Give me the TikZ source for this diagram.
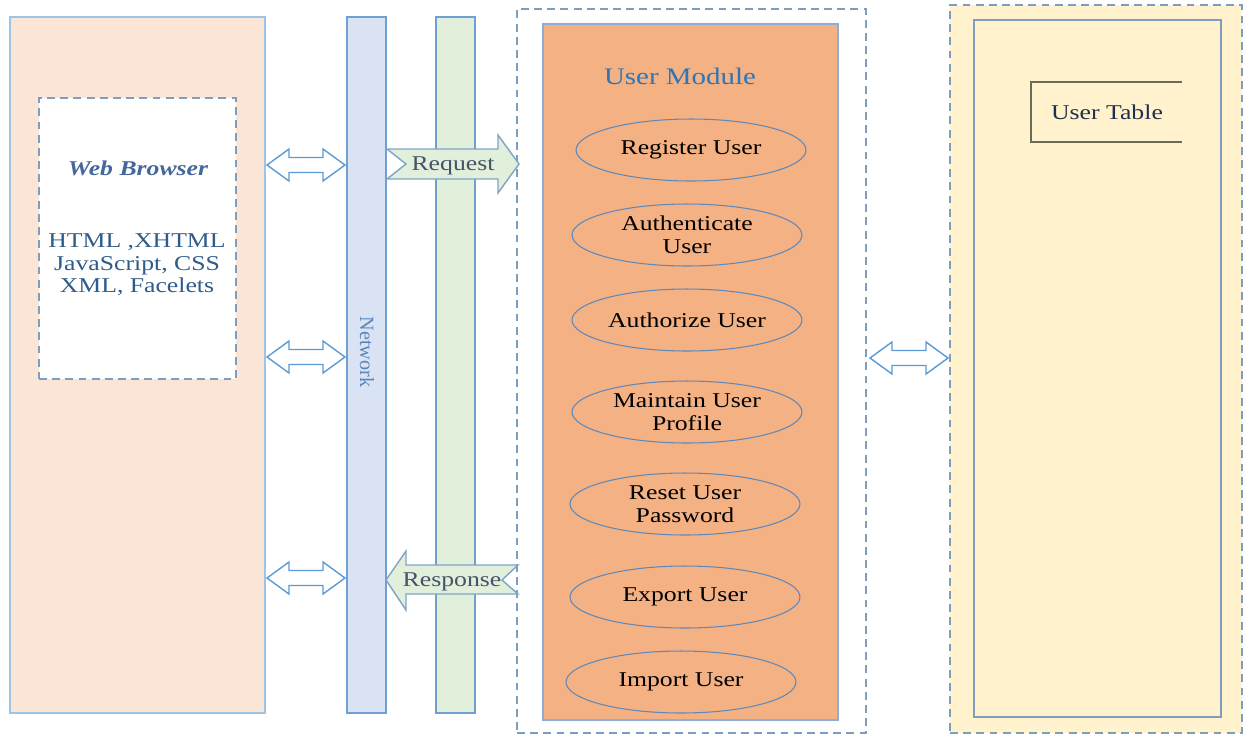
\documentclass[tikz,border=0pt]{standalone}
\usepackage{fontspec}
\setmainfont{Liberation Serif}[FakeStretch=1.22]
\newfontfamily\netfont{Liberation Serif}
\usetikzlibrary{shapes.geometric}

\definecolor{peach}{HTML}{FBE5D6}
\definecolor{peachedge}{HTML}{9DC3E6}
\definecolor{barblue}{HTML}{DAE3F3}
\definecolor{baredge}{HTML}{6FA0D2}
\definecolor{bargreen}{HTML}{E2EFDA}
\definecolor{modorange}{HTML}{F4B183}
\definecolor{modedge}{HTML}{8FAADC}
\definecolor{dbyellow}{HTML}{FFF2CC}
\definecolor{dashblue}{HTML}{7F9DBD}
\definecolor{ellblue}{HTML}{5F88BA}
\definecolor{arrowblue}{HTML}{5B9BD5}
\definecolor{flowedge}{HTML}{7FA4C8}
\definecolor{titleblue}{HTML}{44689A}
\definecolor{techblue}{HTML}{2E5C8A}
\definecolor{modtitle}{HTML}{2E75B6}
\definecolor{nettext}{HTML}{5B86B8}
\definecolor{flowtext}{HTML}{44546A}
\definecolor{tabletext}{HTML}{1F2F4F}
\definecolor{bracketgray}{HTML}{6B6B5A}

\begin{document}
\begin{tikzpicture}[x=0.02cm, y=-0.02cm,
    every node/.style={font=\fontsize{12}{13}\selectfont},
    panel/.style={draw=#1, line width=0.8pt, inner sep=0pt},
    dashedpanel/.style={draw=dashblue, line width=0.9pt, dash pattern=on 4.5pt off 3pt, inner sep=0pt},
    usecase/.style={ellipse, draw=ellblue, fill=modorange, line width=0.6pt,
        minimum width=4.6cm, minimum height=1.24cm, align=center, inner sep=0pt},
    twoway/.style={draw=arrowblue, fill=white, line width=0.8pt},
    flowarrow/.style={draw=flowedge, fill=bargreen, line width=0.8pt},
    flowlabel/.style={text=flowtext, inner sep=0pt}]
    \useasboundingbox (0,0) rectangle (1244,735);

    \node[panel=peachedge, fill=peach, minimum width=5.1cm, minimum height=13.92cm] (browser) at (137.5,365) {};
    \node[dashedpanel, fill=white, minimum width=3.94cm, minimum height=5.62cm] (client) at (137.5,238.5) {};
    \node[text=titleblue, font=\fontsize{12}{13}\selectfont\bfseries\itshape] (webtitle) at (138,168) {Web Browser};
    \node[text=techblue, align=center, font=\fontsize{12}{12.8}\selectfont] (tech) at (137,265) {HTML ,XHTML\\JavaScript, CSS\\XML, Facelets};

    \node[panel=baredge, fill=barblue, minimum width=0.78cm, minimum height=13.92cm] (network) at (366.5,365) {};
    \node[panel=baredge, fill=bargreen, minimum width=0.78cm, minimum height=13.92cm] (channel) at (455.5,365) {};
    \node[rotate=-90, text=nettext, font=\netfont\fontsize{11.5}{12}\selectfont] (netlabel) at (367,352) {Network};

    \node[dashedpanel, minimum width=6.98cm, minimum height=14.48cm] (modframe) at (691.5,371) {};
    \node[panel=modedge, fill=modorange, minimum width=5.9cm, minimum height=13.92cm] (module) at (690.5,372) {};
    \node[text=modtitle, font=\fontsize{13.5}{14}\selectfont] (modtitle) at (680,76) {User Module};
    \node[usecase] (register) at (691,150) {Register User};
    \node[usecase] (authenticate) at (687,235) {Authenticate\\User};
    \node[usecase] (authorize) at (687,320) {Authorize User};
    \node[usecase] (maintain) at (687,412) {Maintain User\\Profile};
    \node[usecase] (reset) at (685,504) {Reset User\\Password};
    \node[usecase] (export) at (685,597) {Export User};
    \node[usecase] (import) at (681,682) {Import User};

    \node[dashedpanel, fill=dbyellow, minimum width=5.84cm, minimum height=14.56cm] (dbframe) at (1096,369) {};
    \node[panel=dashblue, fill=dbyellow, minimum width=4.94cm, minimum height=13.94cm] (database) at (1097.5,368.5) {};
    \node[text=tabletext] (usertable) at (1107,112) {User Table};
    \draw[bracketgray, line width=0.9pt] (1182,82) -- (1031,82) -- (1031,142) -- (1182,142);

    \foreach \x/\y in {267/165, 267/357, 267/578, 870/358} {
        \draw[twoway] (\x,\y) -- ++(22,-16) -- ++(0,8.5) -- ++(34,0) -- ++(0,-8.5) -- ++(22,16)
            -- ++(-22,16) -- ++(0,-8.5) -- ++(-34,0) -- ++(0,8.5) -- cycle;
    }

    \draw[flowarrow] (387,149) -- (498,149) -- (498,135) -- (519,164) -- (498,193) -- (498,179) -- (387,179) -- (406,164) -- cycle;
    \node[flowlabel] (request) at (453,166) {Request};
    \draw[flowarrow] (386,580) -- (406,551) -- (406,565) -- (518,565) -- (502,580) -- (518,594) -- (406,594) -- (406,610) -- cycle;
    \node[flowlabel] (response) at (452,582) {Response};
\end{tikzpicture}
\end{document}
